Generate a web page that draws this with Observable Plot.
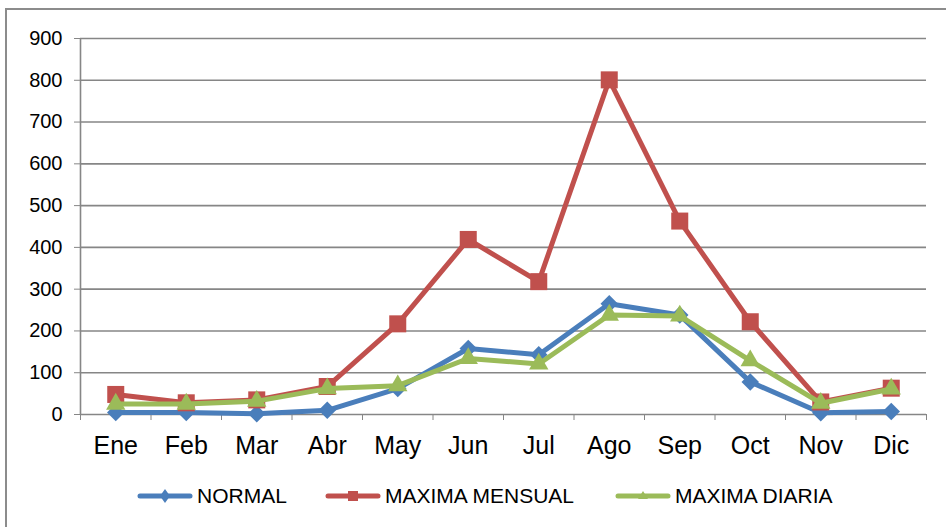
<!DOCTYPE html>
<html>
<head>
<meta charset="utf-8">
<script src="https://cdn.jsdelivr.net/npm/d3@7"></script>
<script src="https://cdn.jsdelivr.net/npm/@observablehq/plot@0.6"></script>
<style>
  body { margin: 0; background: #fff; font-family: "Liberation Sans", Arial, sans-serif; }
  #wrap { position: relative; width: 946px; height: 527px; overflow: hidden; }
  #frame { position: absolute; left: 5px; top: 8px; width: 960px; height: 540px; border: 2px solid #8c8c8c; box-sizing: border-box; }
  #chart { position: absolute; left: 0; top: 0; }
  #legend { position: absolute; top: 484px; left: 0; width: 946px; height: 24px; }
  .item { position: absolute; top: 0; height: 24px; display: flex; align-items: center; font-size: 21px; color: #000; white-space: nowrap; }
  .item svg { margin-right: 4px; }
</style>
</head>
<body>
<div id="wrap">
  <div id="frame"></div>
  <div id="chart"></div>
  <div id="legend"></div>
</div>
<script>
const months = ["Ene","Feb","Mar","Abr","May","Jun","Jul","Ago","Sep","Oct","Nov","Dic"];
const normal = [5, 5, 2, 10, 62, 158, 143, 265, 238, 78, 4, 7];
const maximaMensual = [48, 28, 35, 67, 217, 419, 318, 801, 463, 222, 30, 63];
const maximaDiaria = [25, 25, 32, 62, 69, 134, 121, 238, 236, 129, 27, 61];
const yTicks = [0,100,200,300,400,500,600,700,800,900];
const seriesNames = ["NORMAL", "MAXIMA MENSUAL", "MAXIMA DIARIA"];
const colors = ["#4a7ebb", "#c0504d", "#9bbb59"];

const series = [normal, maximaMensual, maximaDiaria];
const rows = series.map((vals, s) => vals.map((v, i) => ({ series: seriesNames[s], x: i + 0.5, y: v })));
const symbols = ["diamond2", "square", "triangle"];
const radii = [7.9, 9.6, 7.2];

const marks = [
  Plot.gridY({ ticks: yTicks, stroke: "#868686", strokeOpacity: 1, strokeWidth: 1.6 }),
  Plot.ruleX([0], { stroke: "#868686", strokeWidth: 1.6 }),
  Plot.axisY({ ticks: yTicks, tickSize: 6, tickPadding: 12, fontSize: 20, stroke: "#868686", fill: "#000", label: null }),
  Plot.axisX({ ticks: d3.range(0, 13), tickSize: 6, tickFormat: () => "", stroke: "#868686", label: null }),
  Plot.axisX({ ticks: months.map((m, i) => i + 0.5), tickSize: 0, tickPadding: 22, fontSize: 25, tickFormat: d => months[Math.floor(d)], fill: "#000", label: null })
];
rows.forEach((r, s) => {
  marks.push(Plot.line(r, { x: "x", y: "y", stroke: colors[s], strokeWidth: 5, strokeLinejoin: "round", strokeLinecap: "round" }));
  marks.push(Plot.dot(r, { x: "x", y: "y", symbol: () => symbols[s], r: radii[s], fill: colors[s], stroke: "none" }));
});

const chart = Plot.plot({
  width: 946,
  height: 460,
  marginTop: 38,
  marginBottom: 46,
  marginLeft: 80,
  marginRight: 20,
  x: { type: "linear", domain: [0, 12], axis: null },
  y: { domain: [0, 900], axis: null },
  symbol: { type: "identity" },
  style: { fontFamily: "'Liberation Sans', Arial, sans-serif", background: "transparent", overflow: "visible" },
  marks
});
document.getElementById("chart").appendChild(chart);

const legend = document.getElementById("legend");
const lefts = [137, 325, 615];
const shapes = [
  c => `<path d="M28,5 L33,12 L28,19 L23,12 Z" fill="${c}"/>`,
  c => `<rect x="23" y="7" width="10" height="10" fill="${c}"/>`,
  c => `<path d="M28,7 L33,15 L23,15 Z" fill="${c}"/>`
];
seriesNames.forEach((name, s) => {
  const d = document.createElement("div");
  d.className = "item";
  d.style.left = lefts[s] + "px";
  d.innerHTML = `<svg width="56" height="24"><line x1="3" y1="12" x2="53" y2="12" stroke="${colors[s]}" stroke-width="5" stroke-linecap="round"/>${shapes[s](colors[s])}</svg><span>${name}</span>`;
  legend.appendChild(d);
});
</script>
</body>
</html>
